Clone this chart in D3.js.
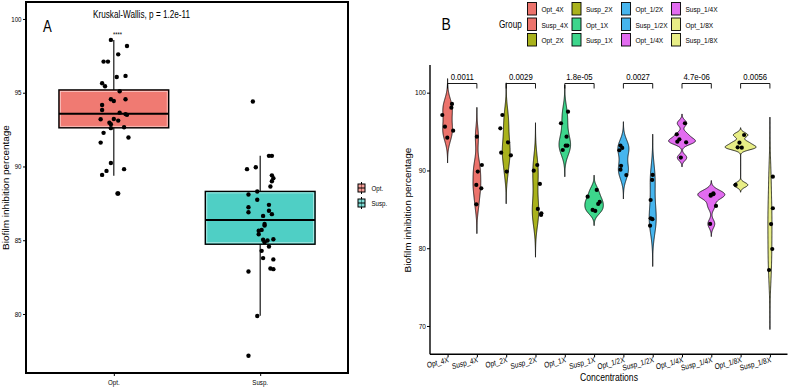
<!DOCTYPE html>
<html><head><meta charset="utf-8">
<script src="https://cdn.jsdelivr.net/npm/d3@7"></script>
<style>body{margin:0;background:#fff}svg{display:block}text{font-family:"Liberation Sans",Arial,sans-serif;fill:#000}</style>
</head><body><svg id="c" width="789" height="387"></svg>
<script>
// ---------------- Panel A data ----------------
const catsA = ["Opt.", "Susp."];
const colorsA = ["#F07A72", "#4FCFC5"];
const boxQ1 = [92.62, 84.73];
const boxMed = [93.58, 86.38];
const boxQ3 = [95.19, 88.31];
const whiskLo = [89.38, 79.88];
const whiskHi = [98.58, 90.72];
const ticksA = [80, 85, 90, 95, 100];
const optValues = [98.58,98.17,97.60,97.11,97.11,96.07,96.14,95.64,95.44,95.10,94.56,94.44,94.56,94.17,93.83,93.65,93.50,93.55,93.20,93.22,93.11,92.97,92.86,92.60,92.66,92.28,91.96,91.62,90.24,89.70,89.43,89.82,88.17];
const optJitter = [-0.02,0.09,0.03,-0.07,-0.04,0.02,0.08,-0.08,-0.06,0.04,-0.02,0.00,0.08,-0.08,-0.08,0.04,0.09,0.08,-0.09,0.00,0.03,-0.03,-0.02,-0.02,0.07,-0.07,0.10,-0.09,-0.02,-0.05,-0.08,0.07,0.03];
const suspValues = [94.40,90.72,90.72,89.82,89.95,89.40,89.20,89.00,88.64,88.10,88.30,87.74,87.24,86.90,87.40,87.00,86.77,86.65,86.10,86.00,85.64,85.70,85.41,85.03,84.98,85.07,84.87,84.57,84.28,83.79,83.70,83.08,83.04,82.88,79.86,77.17];
const suspJitter = [-0.05,0.06,0.08,-0.09,-0.03,0.08,0.09,0.08,0.07,-0.08,-0.02,-0.02,-0.08,-0.08,0.06,0.06,0.08,0.02,0.03,0.03,-0.01,0.01,-0.01,0.02,0.05,0.09,0.03,0.06,0.01,0.02,0.09,0.07,0.09,-0.08,-0.02,-0.08];
const titleA = "Kruskal-Wallis, p = 1.2e-11";

// ---------------- Panel B data ----------------
const groupsB = ["Opt_4X","Susp_4X","Opt_2X","Susp_2X","Opt_1X","Susp_1X","Opt_1/2X","Susp_1/2X","Opt_1/4X","Susp_1/4X","Opt_1/8X","Susp_1/8X"];
const colorsB = ["#EC736C","#EC736C","#A9B21C","#A9B21C","#3DD68C","#3DD68C","#46B5EE","#46B5EE","#E26CF0","#E26CF0","#E8EE86","#E8EE86"];
const opt4X = [97.13,98.55,98.07,95.63,94.22,95.12];
const susp4X = [94.34,90.70,89.85,88.14,87.70,85.65];
const opt2X = [97.13,95.42,93.62,92.29,91.95,89.85];
const susp2X = [89.97,90.70,88.27,85.05,84.50,84.28];
const opt1X = [96.07,97.56,94.34,93.19,93.20,92.63];
const susp1X = [86.63,87.50,84.92,84.80,85.70,85.95];
const opt12X = [93.20,92.90,92.60,90.60,90.10,89.40];
const susp12X = [89.42,88.78,86.20,83.85,83.73,82.90];
const opt14X = [96.07,94.65,94.00,93.70,93.62,91.65];
const susp14X = [87.07,86.85,86.95,86.75,85.44,83.13];
const opt18X = [94.56,93.57,92.98,92.93,88.14];
const susp18X = [89.20,85.14,83.10,79.90,77.20];
const valuesB = [opt4X,susp4X,opt2X,susp2X,opt1X,susp1X,opt12X,susp12X,opt14X,susp14X,opt18X,susp18X];
const jitterB = [
  [-0.18,0.15,0.13,-0.09,-0.01,0.19],
  [0.00,0.17,0.03,-0.02,0.15,-0.02],
  [-0.13,-0.20,0.06,-0.17,0.16,0.02],
  [-0.06,0.06,0.15,0.08,0.20,0.19],
  [-0.13,0.11,0.06,0.03,0.09,-0.07],
  [-0.22,0.09,-0.05,0.04,0.14,0.19],
  [-0.10,-0.04,-0.14,-0.08,-0.10,0.10],
  [0.00,-0.02,-0.07,-0.07,-0.01,-0.09],
  [0.10,-0.18,-0.09,-0.16,0.14,-0.04],
  [0.07,-0.02,0.07,-0.02,0.16,-0.04],
  [0.12,-0.04,-0.10,0.04,-0.17],
  [0.10,0.10,0.04,0.08,-0.03]
];
const pValues = ["0.0011","0.0029","1.8e-05","0.0027","4.7e-06","0.0056"];
const ticksB = [70, 80, 90, 100];

// ---------------- drawing ----------------
const SQ = 0.82; // horizontal text compression of the figure
const svg = d3.select("#c");
function txt(g, x, y, s, size, anchor, extra) {
  return g.append("text")
    .attr("transform", `translate(${x},${y}) scale(${SQ},1)` + (extra || ""))
    .attr("text-anchor", anchor || "start")
    .attr("font-size", size)
    .text(s);
}

// ===== Panel A =====
const gA = svg.append("g");
const xA = d3.scalePoint().domain(catsA).range([26, 348]).padding(0.6);
const yA = d3.scaleLinear().domain([76.0, 101.15]).range([373, 2]);
const stepA = xA.step();
const boxW = 0.75 * stepA;

const yAxisA = d3.axisLeft(yA).tickValues(ticksA).tickSize(3).tickFormat(d3.format("d"));
const ya = gA.append("g").attr("transform", "translate(26,0)").call(yAxisA);
ya.select(".domain").remove();
ya.selectAll("text").remove();
ticksA.forEach(t => txt(gA, 21.5, yA(t) + 2.6, String(t), 7.5, "end"));
const xAxisA = d3.axisBottom(xA).tickSize(3);
const xa = gA.append("g").attr("transform", "translate(0,373)").call(xAxisA);
xa.select(".domain").remove();
xa.selectAll("text").remove();
catsA.forEach(c => txt(gA, xA(c), 385, c, 7.5, "middle"));

catsA.forEach((c, i) => {
  gA.append("line").attr("x1", xA(c)).attr("x2", xA(c))
    .attr("y1", yA(whiskHi[i])).attr("y2", yA(whiskLo[i]))
    .attr("stroke", "#000").attr("stroke-width", 1.1);
  gA.append("rect").attr("x", xA(c) - boxW / 2).attr("width", boxW)
    .attr("y", yA(boxQ3[i])).attr("height", yA(boxQ1[i]) - yA(boxQ3[i]))
    .attr("fill", colorsA[i]).attr("stroke", "#000").attr("stroke-width", 1.4);
  gA.append("rect").attr("x", xA(c) - boxW / 2 + 1.5).attr("width", boxW - 3)
    .attr("y", yA(boxQ3[i]) + 1.5).attr("height", yA(boxQ1[i]) - yA(boxQ3[i]) - 3)
    .attr("fill", "none").attr("stroke", "#fff").attr("stroke-opacity", 0.6).attr("stroke-width", 0.8);
  gA.append("line").attr("x1", xA(c) - boxW / 2).attr("x2", xA(c) + boxW / 2)
    .attr("y1", yA(boxMed[i])).attr("y2", yA(boxMed[i]))
    .attr("stroke", "#000").attr("stroke-width", 2);
});
gA.append("circle").attr("cx", xA("Opt.") + 0.025 * stepA).attr("cy", yA(88.17)).attr("r", 2.2);
function ptsA(vals, jit, cat) {
  gA.selectAll(null).data(vals).enter().append("circle")
    .attr("cx", (d, i) => xA(cat) + jit[i] * stepA)
    .attr("cy", d => yA(d)).attr("r", 2.2).attr("fill", "#000");
}
ptsA(optValues, optJitter, "Opt.");
ptsA(suspValues, suspJitter, "Susp.");

gA.append("rect").attr("x", 26).attr("y", 2).attr("width", 322).attr("height", 371)
  .attr("fill", "none").attr("stroke", "#000").attr("stroke-width", 2);

txt(gA, 93, 18, titleA, 10, "start");
gA.append("text").attr("transform", `translate(43,32) scale(${SQ},1)`)
  .attr("font-family", "Liberation Serif, DejaVu Serif, serif").attr("font-size", 16).text("A");
txt(gA, 117.5, 37, "****", 7, "middle");
txt(gA, 9, 187.5, "Biofilm inhibition percentage", 10, "middle", " rotate(-90)");

catsA.forEach((c, i) => {
  const cy = [188, 203][i];
  gA.append("line").attr("x1", 361.5).attr("x2", 361.5).attr("y1", cy - 6).attr("y2", cy + 6).attr("stroke", "#000").attr("stroke-width", 1);
  gA.append("rect").attr("x", 358).attr("y", cy - 4).attr("width", 7).attr("height", 8)
    .attr("fill", colorsA[i]).attr("fill-opacity", 0.7).attr("stroke", "#000").attr("stroke-width", 1);
  gA.append("line").attr("x1", 358).attr("x2", 365).attr("y1", cy).attr("y2", cy).attr("stroke", "#000").attr("stroke-width", 1);
  txt(gA, 371.5, cy + 2.5, c, 7.5, "start");
});

// ===== Panel B =====
const gB = svg.append("g");
const xB = d3.scalePoint().domain(groupsB).range([430, 787.5]).padding(0.6);
const yB = d3.scaleLinear().domain([66.36, 103.56]).range([354.3, 65]);
const stepB = xB.step();

const yAxisB = d3.axisLeft(yB).tickValues(ticksB).tickSize(3);
const yb = gB.append("g").attr("transform", "translate(430,0)").call(yAxisB);
yb.select(".domain").remove();
yb.selectAll("text").remove();
ticksB.forEach(t => txt(gB, 426, yB(t) + 2.8, String(t), 8, "end"));
gB.append("line").attr("x1", 430).attr("x2", 430).attr("y1", 65).attr("y2", 354.3).attr("stroke", "#000").attr("stroke-width", 1.4);
const xAxisB = d3.axisBottom(xB).tickSize(3);
const xb = gB.append("g").attr("transform", "translate(0,354.3)").call(xAxisB);
xb.select(".domain").remove();
xb.selectAll("text").remove();
gB.append("line").attr("x1", 430).attr("x2", 787.5).attr("y1", 354.3).attr("y2", 354.3).attr("stroke", "#000").attr("stroke-width", 1.4);
groupsB.forEach(gn => txt(gB, xB(gn) + 1.5, 362, gn, 8, "end", " rotate(-13)"));

// KDE (gaussian, nrd0 bandwidth, cut = 3), scale = "area"
function quantile7(s, p) { const h = (s.length - 1) * p, lo = Math.floor(h); return s[lo] + (h - lo) * ((s[lo + 1] ?? s[lo]) - s[lo]); }
function nrd0(a) {
  const s = a.slice().sort((x, y) => x - y);
  const sd = d3.deviation(a);
  const iqr = quantile7(s, 0.75) - quantile7(s, 0.25);
  let lo = Math.min(sd, iqr / 1.34);
  if (!(lo > 0)) lo = sd || Math.abs(s[0]) || 1;
  return 0.9 * lo * Math.pow(a.length, -0.2);
}
const dens = valuesB.map(a => {
  const bw = nrd0(a);
  const lo = d3.min(a) - 3 * bw, hi = d3.max(a) + 3 * bw;
  const N = 256;
  return d3.range(N).map(k => {
    const v = lo + (hi - lo) * k / (N - 1);
    const d = d3.mean(a, x => Math.exp(-0.5 * ((v - x) / bw) ** 2)) / (bw * Math.sqrt(2 * Math.PI));
    return { v, d };
  });
});
const maxD = d3.max(dens, arr => d3.max(arr, p => p.d));
const wB = d3.scaleLinear().domain([0, maxD]).range([0, 0.53 * stepB]);

groupsB.forEach((gn, i) => {
  const cx = xB(gn);
  const area = d3.area().y(p => yB(p.v)).x0(p => cx - wB(p.d)).x1(p => cx + wB(p.d));
  gB.append("path").attr("d", area(dens[i])).attr("fill", colorsB[i])
    .attr("stroke", "#000").attr("stroke-width", 0.8);
  gB.selectAll(null).data(valuesB[i]).enter().append("circle")
    .attr("cx", (d, k) => cx + jitterB[i][k] * stepB)
    .attr("cy", d => yB(d)).attr("r", 2.1).attr("fill", "#000");
});

pValues.forEach((p, k) => {
  const x1 = xB(groupsB[2 * k]), x2 = xB(groupsB[2 * k + 1]);
  gB.append("path").attr("d", `M${x1},88.5V83.5H${x2}V88.5`).attr("fill", "none").attr("stroke", "#000").attr("stroke-width", 0.9);
  txt(gB, (x1 + x2) / 2, 80, p, 9.5, "middle");
});

txt(gB, 609, 381, "Concentrations", 10.5, "middle");
txt(gB, 411, 210, "Biofilm inhibition percentage", 10, "middle", " rotate(-90)");
gB.append("text").attr("transform", `translate(441.5,30) scale(${SQ},1)`)
  .attr("font-family", "Liberation Serif, DejaVu Serif, serif").attr("font-size", 17).text("B");

txt(gB, 499, 28, "Group", 10, "start");
const keyX = [527.5, 572, 621.5, 671.5];
const keyY = [2.5, 18, 33.5];
groupsB.forEach((gn, i) => {
  const col = Math.floor(i / 3), row = i % 3;
  gB.append("rect").attr("x", keyX[col]).attr("y", keyY[row]).attr("width", 9).attr("height", 12.5)
    .attr("fill", colorsB[i]).attr("stroke", "#000").attr("stroke-width", 0.9);
  txt(gB, keyX[col] + 14, keyY[row] + 9.5, gn, 8, "start");
});
</script></body></html>
